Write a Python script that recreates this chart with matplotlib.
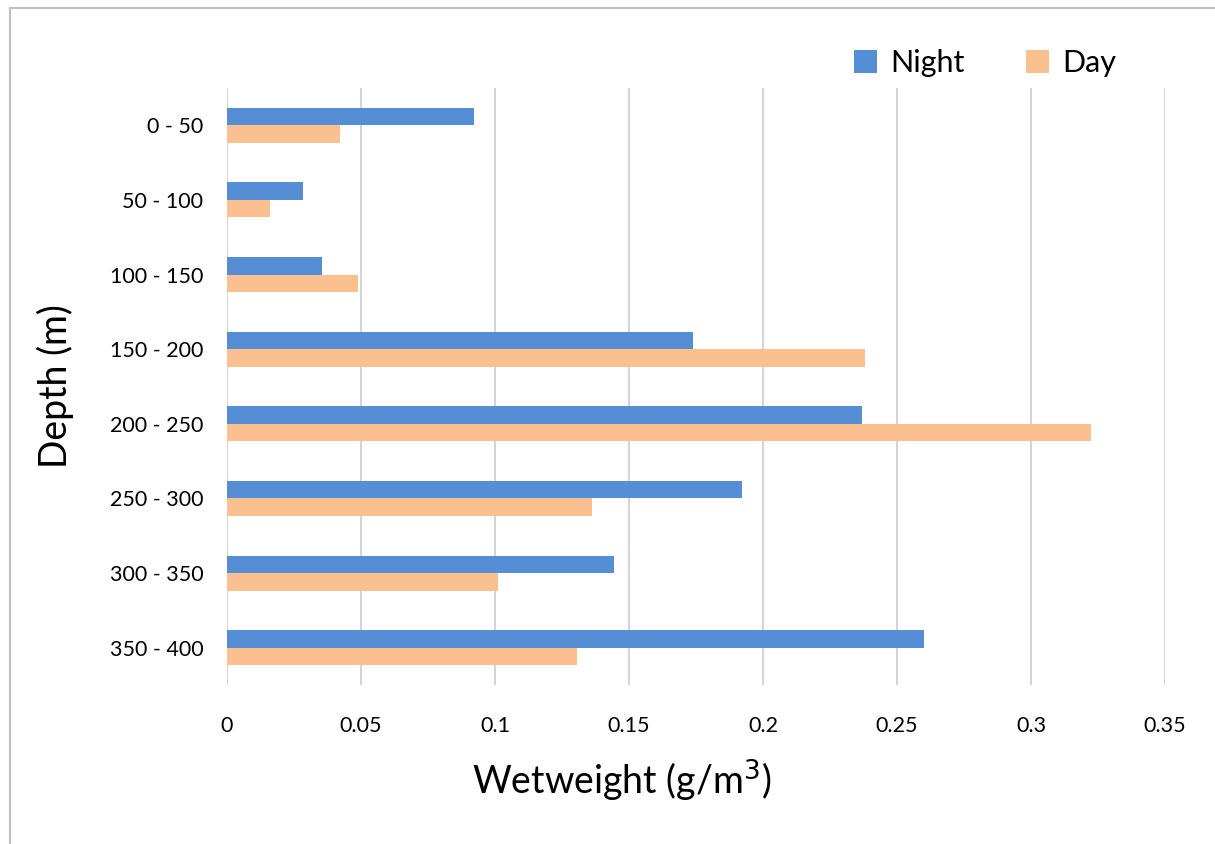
import numpy as np
import matplotlib
matplotlib.use("Agg")
import matplotlib.pyplot as plt
from matplotlib.patches import Rectangle

plt.rcParams['font.family'] = ['Lato', 'DejaVu Sans']

depths = ["0 - 50", "50 - 100", "100 - 150", "150 - 200",
          "200 - 250", "250 - 300", "300 - 350", "350 - 400"]
night = [0.0922, 0.0284, 0.0355, 0.1740, 0.2370, 0.1920, 0.1445, 0.2600]
day = [0.0422, 0.0162, 0.0490, 0.2380, 0.3225, 0.1362, 0.1010, 0.1305]
xticks = [0, 0.05, 0.1, 0.15, 0.2, 0.25, 0.3, 0.35]
xtick_labels = ["0", "0.05", "0.1", "0.15", "0.2", "0.25", "0.3", "0.35"]

night_color = "#558ED5"
day_color = "#FAC090"

fig = plt.figure(figsize=(12.15, 8.44), dpi=100)
ax = fig.add_axes([227 / 1215, 1 - 685 / 844, (1165 - 227) / 1215, (685 - 88) / 844])

y = np.arange(len(depths))
h = 0.235
ax.barh(y - h / 2, night, height=h, color=night_color, label="Night", zorder=3)
ax.barh(y + h / 2, day, height=h, color=day_color, label="Day", zorder=3)

ax.set_xlim(0, 0.35)
ax.set_ylim(len(depths) - 0.5, -0.5)
ax.set_xticks(xticks)
ax.set_xticklabels(xtick_labels)
ax.set_yticks(y)
ax.set_yticklabels(depths)
ax.tick_params(axis='both', length=0, labelsize=15.5, colors="#000000")
ax.tick_params(axis='x', pad=22)
ax.tick_params(axis='y', pad=17)
ax.grid(axis='x', color="#D0D0D0", linewidth=1.3, zorder=0)
for s in ax.spines.values():
    s.set_visible(False)

ax.set_xlabel("Wetweight (g/m$^3$)", fontsize=27)
ax.xaxis.set_label_coords((622 - 227) / 938, -(781 - 685) / 597)
ax.xaxis.label.set_va("center")
ax.set_ylabel("Depth (m)", fontsize=27)
ax.yaxis.set_label_coords(-(227 - 55) / 938, 0.5)
ax.yaxis.label.set_va("center")

leg = fig.legend(loc="center", bbox_to_anchor=(985 / 1215, 1 - 63 / 844),
                 ncol=2, frameon=False, fontsize=22, handlelength=0.75,
                 handleheight=0.75, columnspacing=2.0, handletextpad=0.45)

# chart frame
fig.patches.append(Rectangle((10 / 1215, -0.05), 1.2, 1 - 8 / 844 + 0.05,
                             transform=fig.transFigure, fill=False,
                             edgecolor="#BFBFBF", linewidth=1.5))

fig.savefig("out.png", dpi=100)
